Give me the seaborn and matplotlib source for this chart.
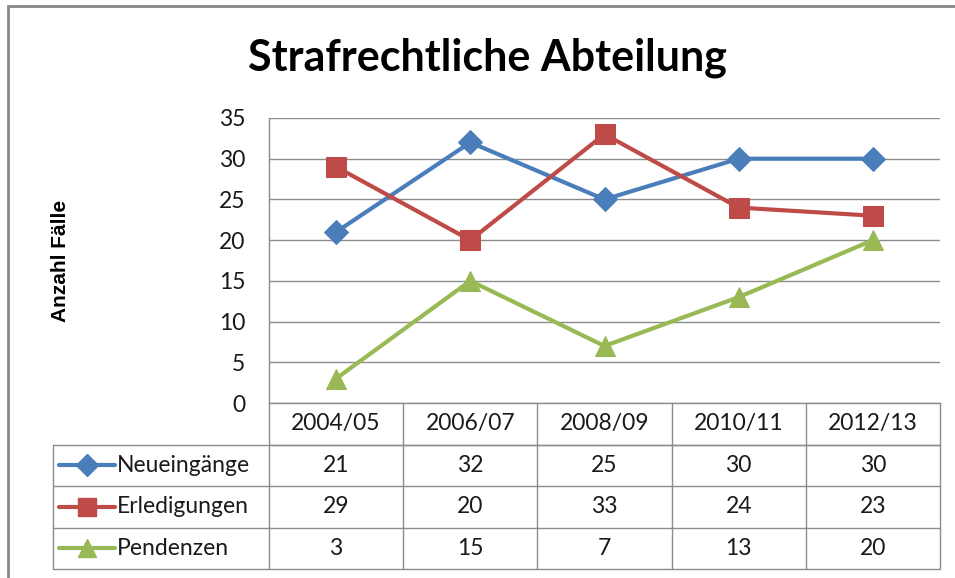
import pandas as pd
import seaborn as sns
import matplotlib.pyplot as plt
from matplotlib.patches import Rectangle
from matplotlib.lines import Line2D
from matplotlib.transforms import blended_transform_factory

OUT = "out.png"

perioden = ["2004/05", "2006/07", "2008/09", "2010/11", "2012/13"]
neueingaenge = [21, 32, 25, 30, 30]
erledigungen = [29, 20, 33, 24, 23]
pendenzen = [3, 15, 7, 13, 20]
serien = ["Neueingänge", "Erledigungen", "Pendenzen"]
farben = ["#4A7EBB", "#BE4B48", "#98B954"]
marker = ["D", "s", "^"]
msize = [12, 14, 14]


def main():
    sns.set_theme(style="white")
    plt.rcParams["font.family"] = ["Lato", "DejaVu Sans"]

    werte = [neueingaenge, erledigungen, pendenzen]
    df = pd.DataFrame({
        "Periode": [i for _ in serien for i in range(len(perioden))],
        "Anzahl": [v for w in werte for v in w],
        "Serie": [s for s in serien for _ in perioden],
    })

    fig = plt.figure(figsize=(9.55, 5.78), dpi=100)
    W, H = 955, 578
    ax = fig.add_axes([269 / W, 1 - 403 / H, 671 / W, 285 / H])

    for s, c, m, ms in zip(serien, farben, marker, msize):
        sns.lineplot(data=df[df["Serie"] == s], x="Periode", y="Anzahl",
                     color=c, marker=m, markersize=ms, markeredgecolor=c,
                     linewidth=3, ax=ax, zorder=3)

    grau = "#8C8C8C"
    txt = "#1A1A1A"
    fs = 16.5
    ax.set_xlim(-0.5, len(perioden) - 0.5)
    ax.set_ylim(0, 35)
    ax.set_yticks(range(0, 36, 5))
    ax.yaxis.grid(True, color=grau, linewidth=1)
    ax.set_xticks([])
    ax.set_xlabel("")
    ax.set_ylabel("")
    ax.tick_params(axis="y", labelsize=fs, pad=17, colors=txt, length=0)
    for side in ["top", "right"]:
        ax.spines[side].set_visible(False)
    for side in ["left", "bottom"]:
        ax.spines[side].set_color(grau)
        ax.spines[side].set_linewidth(1)

    # Datentabelle unter dem Diagramm
    tr = blended_transform_factory(ax.transData, ax.transAxes)
    rh = 41.5 / 285
    links = (53 - 269) / 671
    kw = dict(color=grau, linewidth=1, clip_on=False)
    n = len(perioden)
    ax.plot([-0.5, n - 0.5], [-rh, -rh], transform=tr, **kw)
    for i in range(n + 1):
        ax.plot([i - 0.5, i - 0.5], [0, -4 * rh], transform=tr, **kw)
    for r in range(1, 5):
        ax.plot([links, 1], [-r * rh, -r * rh], transform=ax.transAxes, **kw)
    ax.plot([links, links], [-rh, -4 * rh], transform=ax.transAxes, **kw)
    for i, p in enumerate(perioden):
        ax.text(i, -0.5 * rh, p, transform=tr, ha="center", va="center",
                fontsize=fs, color=txt)
    for r, (s, w, c, m, ms) in enumerate(zip(serien, werte, farben, marker, msize)):
        y = -(r + 1.5) * rh
        ax.add_line(Line2D([links + 6 / 671, links + 62 / 671], [y, y],
                           transform=ax.transAxes, color=c, linewidth=3,
                           clip_on=False))
        ax.add_line(Line2D([links + 34 / 671], [y], transform=ax.transAxes,
                           marker=m, markersize=ms * 0.9, color=c,
                           markeredgecolor=c, clip_on=False))
        ax.text(links + 64 / 671, y, s, transform=ax.transAxes, ha="left",
                va="center", fontsize=fs, color=txt)
        for i, v in enumerate(w):
            ax.text(i, y, str(v), transform=tr, ha="center", va="center",
                    fontsize=fs, color=txt)

    fig.text(487 / W, 1 - 58 / H, "Strafrechtliche Abteilung", ha="center",
             va="center", fontsize=31, fontweight="bold", color="black")
    fig.text(60 / W, 1 - 261 / H, "Anzahl Fälle", rotation=90, ha="center",
             va="center", fontsize=15, fontweight="bold", color="black",
             family=["Liberation Sans", "DejaVu Sans"])

    fig.patches.append(Rectangle((8 / W, -0.1), 1.2, 1.1 - 6 / H,
                                 transform=fig.transFigure, fill=False,
                                 edgecolor="#888888", linewidth=2))

    fig.savefig(OUT, dpi=100)


if __name__ == "__main__":
    main()
